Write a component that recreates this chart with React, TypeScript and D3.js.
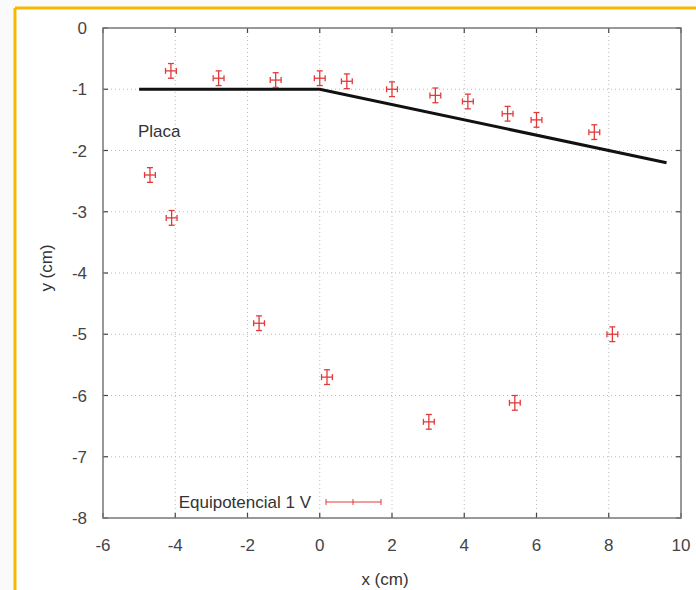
import React from 'react';
import * as d3 from 'd3';

// measured points (cm)
const xs = [-4.12, -2.8, -1.22, 0.0, 0.75, 2.0, 3.2, 4.1, 5.2, 6.0, 7.6, -4.7, -4.1, -1.68, 0.2, 3.02, 5.4, 8.1];
const ys = [-0.7, -0.82, -0.85, -0.82, -0.87, -1.0, -1.1, -1.2, -1.4, -1.5, -1.7, -2.4, -3.1, -4.82, -5.7, -6.43, -6.12, -5.0];
const xErr = 0.15;
const yErr = 0.12;

// plate outline
const plateX = [-5, 0, 9.6];
const plateY = [-1, -1, -2.2];

const xTicks = [-6, -4, -2, 0, 2, 4, 6, 8, 10];
const yTicks = [0, -1, -2, -3, -4, -5, -6, -7, -8];

const W = 696;
const H = 590;
const m = { left: 103, right: 15, top: 28, bottom: 72 };
const red = '#e23a3a';
const font = '"Liberation Sans", Arial, sans-serif';

export default function App() {
  const x = d3.scaleLinear().domain([-6, 10]).range([m.left, W - m.right]);
  const y = d3.scaleLinear().domain([-8, 0]).range([H - m.bottom, m.top]);
  const line = d3
    .line<number>()
    .x((d, i) => x(plateX[i]))
    .y((d, i) => y(plateY[i]));

  const x0 = x(-6), x1 = x(10), y0 = y(-8), y1 = y(0);
  const cap = 3;

  return (
    <div style={{ position: 'absolute', left: 0, top: 0 }}>
      <svg width={W} height={H} style={{ display: 'block', fontFamily: font }}>
        <rect width={W} height={H} fill="#fafafa" />
        <rect x={15} y={8} width={W} height={H} fill="#fff" />
        <line x1={15} y1={8} x2={15} y2={H} stroke="#f7b900" strokeWidth={3} />
        <line x1={15} y1={8} x2={W} y2={8} stroke="#f7b900" strokeWidth={3} />

        {/* grid */}
        {xTicks.slice(1, -1).map(t => (
          <line key={'gx' + t} x1={x(t)} x2={x(t)} y1={y1} y2={y0} stroke="#bbb" strokeDasharray="1,3" />
        ))}
        {yTicks.slice(1, -1).map(t => (
          <line key={'gy' + t} x1={x0} x2={x1} y1={y(t)} y2={y(t)} stroke="#bbb" strokeDasharray="1,3" />
        ))}

        {/* ticks, mirrored */}
        {xTicks.map(t => (
          <g key={'tx' + t} stroke="#444" strokeWidth={1.2}>
            <line x1={x(t)} x2={x(t)} y1={y0} y2={y0 - 5} />
            <line x1={x(t)} x2={x(t)} y1={y1} y2={y1 + 5} />
          </g>
        ))}
        {yTicks.map(t => (
          <g key={'ty' + t} stroke="#444" strokeWidth={1.2}>
            <line x1={x0} x2={x0 + 5} y1={y(t)} y2={y(t)} />
            <line x1={x1} x2={x1 - 5} y1={y(t)} y2={y(t)} />
          </g>
        ))}

        <rect x={x0} y={y1} width={x1 - x0} height={y0 - y1} fill="none" stroke="#777" strokeWidth={1.5} />

        {xTicks.map(t => (
          <text key={'lx' + t} x={x(t)} y={y0 + 33} textAnchor="middle" fontSize={17} fill="#444">
            {t}
          </text>
        ))}
        {yTicks.map(t => (
          <text key={'ly' + t} x={x0 - 16} y={y(t) + 6} textAnchor="end" fontSize={17} fill="#444">
            {t}
          </text>
        ))}

        <text x={385} y={585} textAnchor="middle" fontSize={17} fill="#333">x (cm)</text>
        <text transform="translate(52,268) rotate(-90)" textAnchor="middle" fontSize={17} fill="#333">y (cm)</text>

        {/* plate */}
        <path d={line(plateX) || ''} fill="none" stroke="#111" strokeWidth={3} />
        <text x={138} y={137} fontSize={17} fill="#333">Placa</text>

        {/* data with error bars */}
        {xs.map((v, i) => {
          const cx = x(v), cy = y(ys[i]);
          const xa = x(v - xErr), xb = x(v + xErr);
          const ya = y(ys[i] - yErr), yb = y(ys[i] + yErr);
          return (
            <g key={'p' + i} stroke={red} strokeWidth={1.3}>
              <line x1={xa} x2={xb} y1={cy} y2={cy} />
              <line x1={cx} x2={cx} y1={ya} y2={yb} />
              <line x1={xa} x2={xa} y1={cy - cap} y2={cy + cap} />
              <line x1={xb} x2={xb} y1={cy - cap} y2={cy + cap} />
              <line x1={cx - cap} x2={cx + cap} y1={ya} y2={ya} />
              <line x1={cx - cap} x2={cx + cap} y1={yb} y2={yb} />
            </g>
          );
        })}

        {/* legend */}
        <text x={311} y={508} textAnchor="end" fontSize={17} fill="#333">Equipotencial 1 V</text>
        <g stroke={red} strokeWidth={1}>
          <line x1={326} x2={381} y1={502} y2={502} />
          <line x1={326} x2={326} y1={499} y2={505} />
          <line x1={381} x2={381} y1={499} y2={505} />
          <line x1={353} x2={353} y1={499} y2={505} />
        </g>
      </svg>
    </div>
  );
}
